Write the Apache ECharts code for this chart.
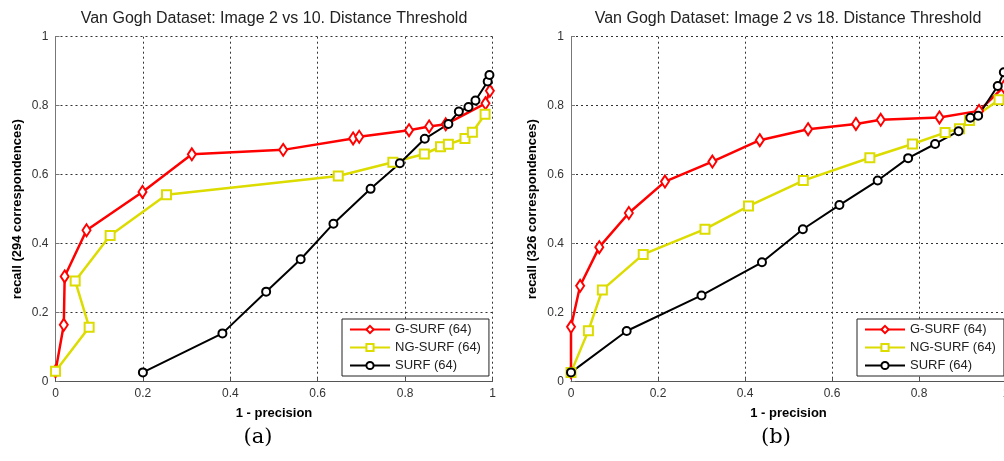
<!DOCTYPE html>
<html>
<head>
<meta charset="utf-8">
<script src="https://cdn.jsdelivr.net/npm/echarts@6/dist/echarts.min.js"></script>
<style>
  html, body { margin: 0; padding: 0; background: #fff; }
  #grafico { width: 1004px; height: 461px; }
</style>
</head>
<body>
<div id="grafico"></div>
<script>
// curvas recall x (1 - precision)
// (a) imagem 2 vs 10
const gsurfA = [[0, 0.03], [0.019, 0.165], [0.021, 0.305], [0.071, 0.439], [0.199, 0.55], [0.312, 0.659],
  [0.521, 0.672], [0.681, 0.705], [0.695, 0.71], [0.809, 0.729], [0.855, 0.74], [0.893, 0.746],
  [0.984, 0.807], [0.994, 0.843]];
const ngsurfA = [[0, 0.03], [0.077, 0.158], [0.045, 0.292], [0.125, 0.424], [0.254, 0.542], [0.647, 0.596],
  [0.772, 0.636], [0.844, 0.66], [0.881, 0.681], [0.899, 0.688], [0.937, 0.705], [0.954, 0.723],
  [0.983, 0.775]];
const surfA = [[0.2, 0.027], [0.382, 0.14], [0.482, 0.261], [0.561, 0.355], [0.636, 0.458], [0.721, 0.559],
  [0.788, 0.633], [0.845, 0.704], [0.899, 0.747], [0.923, 0.783], [0.945, 0.796], [0.961, 0.815],
  [0.989, 0.87], [0.993, 0.889]];

// (b) imagem 2 vs 18
const gsurfB = [[0, 0.027], [0, 0.159], [0.021, 0.278], [0.065, 0.39], [0.133, 0.489], [0.216, 0.58],
  [0.325, 0.638], [0.434, 0.70], [0.545, 0.732], [0.655, 0.747], [0.712, 0.759], [0.847, 0.766],
  [0.938, 0.785], [0.995, 0.855]];
const ngsurfB = [[0, 0.027], [0.04, 0.148], [0.072, 0.266], [0.166, 0.369], [0.308, 0.442], [0.408, 0.509],
  [0.534, 0.583], [0.687, 0.649], [0.785, 0.689], [0.86, 0.722], [0.893, 0.733], [0.916, 0.757],
  [0.984, 0.817]];
const surfB = [[0, 0.027], [0.128, 0.147], [0.3, 0.25], [0.439, 0.346], [0.533, 0.442], [0.617, 0.512],
  [0.705, 0.583], [0.775, 0.648], [0.837, 0.689], [0.891, 0.726], [0.918, 0.765], [0.936, 0.771],
  [0.981, 0.857], [0.995, 0.897]];

const nomes = ['G-SURF (64)', 'NG-SURF (64)', 'SURF (64)'];
const titulos = ['Van Gogh Dataset: Image 2 vs 10. Distance Threshold', 'Van Gogh Dataset: Image 2 vs 18. Distance Threshold'];
const nomesY = ['recall (294 correspondences)', 'recall (326 correspondences)'];
const nomeX = '1 - precision';
const legendas = ['(a)', '(b)'];

const VERMELHO = '#ff0000';
const AMARELO = '#dcdc00';
const PRETO = '#000000';

var grafico = echarts.init(document.getElementById('grafico'));

function eixoX(idx) {
  return {
    type: 'value', gridIndex: idx, min: 0, max: 1, interval: 0.2,
    name: nomeX, nameLocation: 'middle', nameGap: 25,
    nameTextStyle: { color: '#000', fontSize: 13, fontWeight: 'bold', fontFamily: 'Liberation Sans, Arial' },
    axisLine: { lineStyle: { color: '#555', width: 1 } },
    axisTick: { inside: true, length: 4, lineStyle: { color: '#555' } },
    axisLabel: { color: '#333', fontSize: 12, margin: 6, fontFamily: 'Liberation Sans Narrow, Liberation Sans, Arial' },
    splitLine: { show: true, lineStyle: { color: '#333', type: [2, 3], width: 1 } }
  };
}

function eixoY(idx) {
  return {
    type: 'value', gridIndex: idx, min: 0, max: 1, interval: 0.2,
    name: nomesY[idx], nameLocation: 'middle', nameGap: 32,
    nameTextStyle: { color: '#000', fontSize: 13, fontWeight: 'bold', fontFamily: 'Liberation Sans, Arial' },
    axisLine: { show: true, lineStyle: { color: '#777', width: 1 } },
    axisTick: { show: true, inside: true, length: 4, lineStyle: { color: '#777' } },
    axisLabel: { color: '#333', fontSize: 12, margin: 7, fontFamily: 'Liberation Sans Narrow, Liberation Sans, Arial' },
    splitLine: { show: true, lineStyle: { color: '#333', type: [2, 3], width: 1 } }
  };
}

function serie(nome, dados, idx, cor, simbolo, tam, larg) {
  return {
    name: nome, type: 'line', xAxisIndex: idx, yAxisIndex: idx,
    data: dados, symbol: simbolo, symbolSize: tam, showAllSymbol: true,
    lineStyle: { color: cor, width: larg },
    itemStyle: { color: cor, borderColor: cor, borderWidth: 2 },
    animation: false
  };
}

function legenda(idx, esq) {
  return {
    orient: 'vertical', left: esq, top: 319, data: nomes,
    backgroundColor: '#fff', borderColor: '#222', borderWidth: 1,
    padding: [4, 8, 4, 7], itemGap: 5, itemWidth: 40, itemHeight: 9,
    textStyle: { color: '#222', fontSize: 13, fontFamily: 'Liberation Sans, Arial' },
    selectedMode: false
  };
}

var opcoes = {
  backgroundColor: '#fff',
  animation: false,
  title: [
    { text: titulos[0], left: 274, top: 11, textAlign: 'center', padding: 0,
      textStyle: { color: '#222', fontSize: 16, fontWeight: 'normal', fontFamily: 'Liberation Sans, Arial' } },
    { text: titulos[1], left: 788, top: 11, textAlign: 'center', padding: 0,
      textStyle: { color: '#222', fontSize: 16, fontWeight: 'normal', fontFamily: 'Liberation Sans, Arial' } },
    { text: legendas[0], left: 258, top: 427, textAlign: 'center', padding: 0,
      textStyle: { color: '#000', fontSize: 21, fontWeight: 'normal', fontFamily: 'DejaVu Serif, Liberation Serif' } },
    { text: legendas[1], left: 776, top: 427, textAlign: 'center', padding: 0,
      textStyle: { color: '#000', fontSize: 21, fontWeight: 'normal', fontFamily: 'DejaVu Serif, Liberation Serif' } }
  ],
  grid: [
    { left: 55.5, top: 36.7, width: 437, height: 345, containLabel: false, outerBoundsMode: 'none' },
    { left: 571, top: 36.7, width: 435, height: 345, containLabel: false, outerBoundsMode: 'none' }
  ],
  xAxis: [eixoX(0), eixoX(1)],
  yAxis: [eixoY(0), eixoY(1)],
  legend: [legenda(0, 342), legenda(1, 857)],
  series: [
    serie(nomes[0], gsurfA, 0, VERMELHO, 'emptyDiamond', [8, 12], 2.5),
    serie(nomes[1], ngsurfA, 0, AMARELO, 'emptyRect', 9, 2.5),
    serie(nomes[2], surfA, 0, PRETO, 'emptyCircle', 8, 2),
    serie(nomes[0], gsurfB, 1, VERMELHO, 'emptyDiamond', [8, 12], 2.5),
    serie(nomes[1], ngsurfB, 1, AMARELO, 'emptyRect', 9, 2.5),
    serie(nomes[2], surfB, 1, PRETO, 'emptyCircle', 8, 2)
  ]
};

grafico.setOption(opcoes);
</script>
</body>
</html>
